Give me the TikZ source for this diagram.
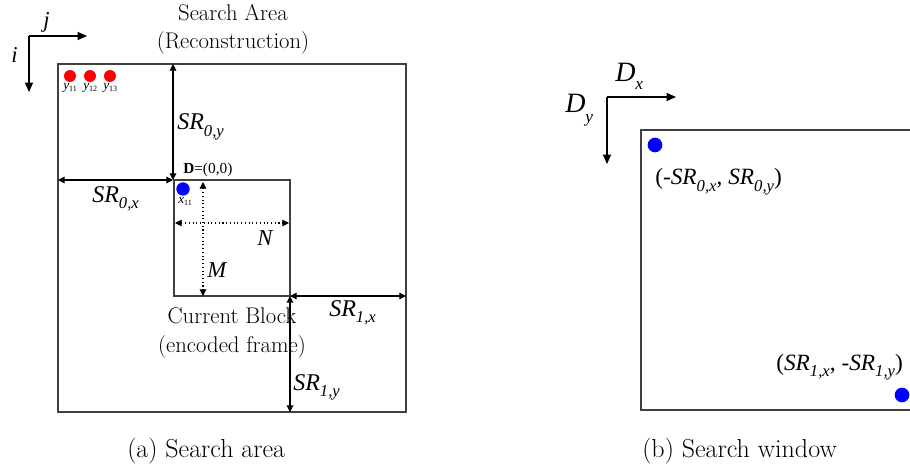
\documentclass[tikz,border=0pt]{standalone}
\usepackage{fontspec}
\newfontfamily\tnr{Liberation Serif}
\usetikzlibrary{arrows.meta}
\newcommand{\lsub}[2]{#1\raisebox{-5pt}{\fontsize{12.5}{13}\selectfont #2}}
\newcommand{\tsub}[2]{#1\raisebox{-1.5pt}{\upshape\fontsize{6}{7}\selectfont #2}}
\tikzset{
  boxline/.style={draw=black!75, line width=0.9pt},
  dimarrow/.style={black, line width=0.8pt, {Triangle[length=5pt,width=5pt]}-{Triangle[length=5pt,width=5pt]}},
  dotdim/.style={dimarrow, dotted},
  axisarrow/.style={black, line width=0.8pt, -{Triangle[length=7pt,width=6pt]}},
  labit/.style={font=\tnr\itshape\fontsize{18}{20}\selectfont, inner sep=0, anchor=base west},
  labrm/.style={font=\tnr\fontsize{17.5}{20}\selectfont, inner sep=0, anchor=base west},
  smalllab/.style={font=\tnr\itshape\fontsize{10}{11}\selectfont, inner sep=0, anchor=base west},
  ttltext/.style={font=\fontsize{17}{20}\selectfont, inner sep=0, anchor=base},
  captext/.style={font=\fontsize{19.5}{24}\selectfont, inner sep=0, anchor=base west},
  rdot/.style={circle, fill=red, inner sep=0, minimum size=9pt},
  bdot/.style={circle, fill=blue, inner sep=0, minimum size=10pt},
  bdotb/.style={circle, fill=blue, inner sep=0, minimum size=11pt}
}
\begin{document}
\begin{tikzpicture}[x=0.75pt,y=-0.75pt]
\useasboundingbox (0,0) rectangle (910,474);
\clip (0,0) rectangle (910,474);

% ---------- (a) Search area ----------
\node[ttltext] (t1) at (233,21) {Search Area};
\node[ttltext] (t2) at (233,49) {(Reconstruction)};

% axes i,j
\coordinate (ax) at (29,36);
\coordinate (axj) at (87,36);
\coordinate (axi) at (29,92);
\draw[axisarrow] (ax) -- (axj);
\draw[axisarrow] (ax) -- (axi);
\node[smalllab, font=\tnr\itshape\fontsize{17}{18}\selectfont] (lj) at (43,28) {j};
\node[smalllab, font=\tnr\itshape\fontsize{17}{18}\selectfont] (li) at (11,63) {i};

% outer and inner rectangles
\coordinate (A0) at (58,64);
\coordinate (A1) at (406,412);
\draw[boxline] (A0) rectangle (A1);
\coordinate (B0) at (174,180);
\coordinate (B1) at (290,296);
\draw[boxline] (B0) rectangle (B1);

% red dots
\node[rdot] (y1) at (70,76) {};
\node[rdot] (y2) at (90,76) {};
\node[rdot] (y3) at (110,76) {};
\node[smalllab] (ly1) at (63,90) {\tsub{y}{11}};
\node[smalllab] (ly2) at (83,90) {\tsub{y}{12}};
\node[smalllab] (ly3) at (103,90) {\tsub{y}{13}};

% blue dot x11
\node[bdot] (x1) at (183,189) {};
\node[smalllab] (lx1) at (178,204) {\tsub{x}{11}};

% SR dimension arrows
\coordinate (D) at (173,180);
\coordinate (Dtop) at (173,64);
\coordinate (Dleft) at (58,180);
\coordinate (E) at (290,296);
\coordinate (Eright) at (406,296);
\coordinate (Edown) at (290,412);
\draw[dimarrow] (D) -- (Dtop);
\draw[dimarrow] (Dleft) -- (D);
\draw[dimarrow] (E) -- (Eright);
\draw[dimarrow] (E) -- (Edown);

% dotted dims
\coordinate (m0) at (203,182);
\coordinate (m1) at (203,296);
\coordinate (n0) at (175,223);
\coordinate (n1) at (289,223);
\draw[dotdim] (m0) -- (m1);
\draw[dotdim] (n0) -- (n1);

% labels
\node[labit] (l0y) at (177,130) {\lsub{SR}{0,y}};
\node[labit] (l0x) at (92,202) {\lsub{SR}{0,x}};
\node[labit] (l1x) at (329,316) {\lsub{SR}{1,x}};
\node[labit] (l1y) at (293,390) {\lsub{SR}{1,y}};
\node[labit, font=\tnr\itshape\fontsize{17}{18}\selectfont] (lN) at (257,245) {N};
\node[labit, font=\tnr\itshape\fontsize{17}{18}\selectfont] (lM) at (207,277) {M};
\node[labit, font=\tnr\fontsize{11.5}{12}\selectfont] (lD) at (183,174) {\textbf{D}=(0,0)};

\node[ttltext] (c1) at (232,323) {Current Block};
\node[ttltext] (c2) at (232,352) {(encoded frame)};

\node[captext] (capa) at (127,457) {(a) Search area};

% ---------- (b) Search window ----------
\coordinate (bx) at (607,97);
\coordinate (bxr) at (676,97);
\coordinate (bxd) at (607,164);
\draw[axisarrow] (bx) -- (bxr);
\draw[axisarrow] (bx) -- (bxd);
\node[labit, font=\tnr\itshape\fontsize{21}{22}\selectfont] (ldx) at (615,82) {D\raisebox{-5.5pt}{\fontsize{13}{14}\selectfont x}};
\node[labit, font=\tnr\itshape\fontsize{21}{22}\selectfont] (ldy) at (565,113) {D\raisebox{-7.5pt}{\fontsize{13}{14}\selectfont y}};

\coordinate (W0) at (641,130);
\coordinate (W1) at (930,410);
\draw[boxline] (W0) rectangle (W1);
\node[bdotb] (p0) at (655,145) {};
\node[bdotb] (p1) at (902,395) {};
\node[labrm] (lp0) at (655,185) {(-\textit{\lsub{SR}{0,x}}, \textit{\lsub{SR}{0,y}})};
\node[labrm] (lp1) at (776,370) {(\textit{\lsub{SR}{1,x}}, -\textit{\lsub{SR}{1,y}})};

\node[captext] (capb) at (642,457) {(b) Search window};
\end{tikzpicture}
\end{document}
